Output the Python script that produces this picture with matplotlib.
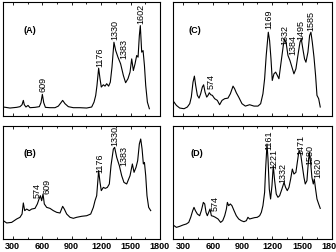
import matplotlib
matplotlib.use("Agg")
import matplotlib.pyplot as plt
from matplotlib.ticker import MultipleLocator

plt.rcParams["font.family"] = ["Liberation Sans", "DejaVu Sans"]

# ---- spectra (wavenumber, relative intensity on 0..100 panel scale) ----
xa = [203, 271, 339, 373, 394, 407, 417, 434, 455, 475, 526, 570, 587, 601, 615,
      632, 679, 730, 764, 791, 808, 832, 866, 917, 985, 1053, 1104, 1128, 1145,
      1158, 1175, 1189, 1202, 1223, 1240, 1257, 1277, 1294, 1311, 1331, 1349,
      1372, 1399, 1427, 1450, 1474, 1495, 1512, 1529, 1546, 1563, 1577, 1590,
      1600, 1614, 1628, 1642, 1655, 1672, 1692]
ya = [7.9, 7.0, 7.6, 8.2, 9.9, 13.7, 9.9, 7.9, 9.3, 7.3, 7.6, 8.2, 11.7, 19, 11.7,
      7.6, 7.3, 7.3, 8.7, 11.7, 13.7, 10.8, 8.2, 7.3, 7.3, 7.0, 7.9, 12.2, 18,
      26.8, 42, 32.7, 25.4, 27.4, 26.2, 28.3, 26.2, 29.7, 42.9, 64.7, 57.4,
      51.6, 45.8, 35.6, 29.2, 32.7, 38.5, 50.1, 39.9, 45.8, 53.1, 51.6, 70.6,
      79.3, 56, 57.4, 44.3, 26.8, 12.2, 6.4]

xb = [203, 237, 288, 339, 373, 394, 407, 421, 441, 468, 492, 526, 550, 567, 581,
      594, 608, 621, 645, 679, 713, 747, 781, 808, 825, 849, 883, 917, 951, 1002,
      1053, 1094, 1121, 1138, 1155, 1175, 1189, 1202, 1223, 1243, 1264, 1284,
      1301, 1325, 1338, 1359, 1386, 1410, 1433, 1461, 1495, 1519, 1536, 1556,
      1573, 1590, 1604, 1618, 1631, 1642, 1655, 1668, 1685, 1706]
yb = [16.2, 14.2, 14.7, 17.7, 19.2, 22.1, 31.9, 25.1, 26.5, 25.1, 26.5, 27.1, 31,
      35.4, 38.3, 33.9, 39.8, 31, 28, 27.1, 25.1, 23.6, 23, 28.9, 26.5, 22.1,
      19.2, 18.3, 19.2, 20.1, 20.6, 22.1, 28, 33.9, 38.3, 60.5, 50.1, 42.8,
      45.7, 44.8, 45.7, 48.7, 64.9, 79.6, 81.1, 72.3, 64.9, 56, 50.1, 48.7, 56,
      66.4, 59, 63.4, 69.3, 84.1, 88.5, 79.6, 66.4, 67.8, 56, 38.3, 28, 25.1]

xc = [210, 234, 267, 311, 344, 368, 384, 401, 415, 428, 445, 462, 478, 495, 508,
      522, 539, 552, 565, 579, 596, 619, 646, 669, 693, 720, 753, 777, 804, 820,
      837, 861, 894, 928, 971, 1015, 1055, 1082, 1105, 1122, 1138, 1159, 1172,
      1186, 1199, 1216, 1233, 1250, 1266, 1290, 1310, 1323, 1340, 1357, 1377,
      1397, 1417, 1437, 1457, 1478, 1491, 1508, 1524, 1538, 1558, 1575, 1588,
      1602, 1619, 1635, 1649, 1666, 1682]
yc = [12.2, 9.3, 7, 6.4, 7.9, 10.8, 16.6, 29.7, 35, 26.8, 18.1, 15.7, 19.5, 25.4,
      27.4, 21, 16.6, 18.1, 20.4, 18.7, 18.1, 15.2, 13.7, 9.9, 13.7, 15.2, 15.7,
      19.5, 26.2, 23.9, 20.4, 16.6, 10.8, 8.7, 9.9, 8.7, 8.7, 10.8, 19.5, 32.7,
      53.1, 73.5, 66.2, 50.1, 31.2, 37, 38.5, 35.6, 32.7, 48.7, 61.8, 67.6,
      63.3, 53.1, 48.7, 42.9, 37, 41.4, 53.1, 64.7, 67.6, 58.3, 50.1, 47.2, 56,
      70.6, 73.5, 64.7, 51.6, 35.6, 18.1, 15.2, 7.9]

xd = [210, 234, 267, 301, 334, 358, 378, 398, 411, 425, 445, 468, 485, 505, 519,
      532, 545, 559, 572, 586, 606, 626, 653, 679, 700, 720, 737, 747, 760, 777,
      793, 814, 837, 861, 887, 914, 938, 954, 971, 995, 1021, 1048, 1072, 1089,
      1105, 1122, 1132, 1146, 1156, 1169, 1182, 1196, 1209, 1223, 1239, 1256,
      1273, 1296, 1317, 1333, 1350, 1367, 1384, 1401, 1417, 1437, 1451, 1468,
      1485, 1501, 1518, 1531, 1548, 1558, 1572, 1585, 1598, 1612, 1622, 1635,
      1649, 1666, 1682]
yd = [11.8, 10.3, 11.2, 12.4, 13.3, 14.7, 19.2, 25.1, 28, 25.1, 22.1, 20.6, 25.1,
      32.4, 31, 23.6, 20.6, 23.6, 26.5, 20.6, 20.1, 19.2, 17.7, 14.7, 16.2, 20.6,
      26.5, 32.4, 29.5, 31, 29.5, 25.1, 20.6, 17.7, 16.2, 15.3, 16.2, 19.2, 17.7,
      18.3, 18.9, 19.2, 20.6, 23.6, 29.5, 41.3, 61.9, 84.1, 70.8, 44.2, 35.4,
      47.2, 64.9, 51.6, 39.8, 36.9, 38.3, 44.2, 50.1, 45.7, 42.8, 45.7, 53.1,
      61.9, 57.5, 59, 67.8, 78.2, 75.2, 64.9, 54.6, 48.7, 51.6, 63.4, 76.7, 67.8,
      54.6, 48.7, 53.1, 44.2, 35.4, 31, 27.1]

# ---- peak labels: (text, x, y) ----
peaks_a = [("609", 611, 29), ("1176", 1189, 52.5), ("1330", 1342, 76),
           ("1383", 1427, 60), ("1602", 1607, 90)]
peaks_b = [("574", 543, 43.7), ("609", 652, 47), ("1176", 1182, 68),
           ("1330", 1335, 92), ("1383", 1427, 74)]
peaks_c = [("574", 586, 31), ("1169", 1162, 86), ("1332", 1323, 72),
           ("1384", 1407, 63), ("1495", 1491, 76), ("1585", 1585, 84.5)]
peaks_d = [("574", 619, 32.4), ("1161", 1160, 88), ("1221", 1216, 72),
           ("1332", 1306, 59), ("1471", 1484, 84), ("1580", 1575, 75),
           ("1620", 1659, 64)]

panels = [
    ("(A)", xa, ya, peaks_a, [0.009, 0.5375, 0.467, 0.4506], 472, 76),
    ("(B)", xb, yb, peaks_b, [0.009, 0.0514, 0.467, 0.4466], 475, 76.7),
    ("(C)", xc, yc, peaks_c, [0.515, 0.5375, 0.473, 0.4506], 418, 76),
    ("(D)", xd, yd, peaks_d, [0.515, 0.0514, 0.473, 0.4466], 435, 76.7),
]

fig = plt.figure(figsize=(3.36, 2.53), dpi=100)
for name, x, y, peaks, rect, lx, ly in panels:
    ax = fig.add_axes(rect)
    ax.plot(x, y, color="black", lw=0.8)
    ax.set_xlim(200, 1800)
    ax.set_ylim(0, 100)
    ax.xaxis.set_major_locator(MultipleLocator(300))
    ax.xaxis.set_minor_locator(MultipleLocator(150))
    ax.set_yticks([])
    ax.tick_params(axis="x", which="both", direction="in", top=True, bottom=True,
                   labelsize=6.5, pad=1.5)
    ax.tick_params(axis="x", which="major", length=2.5, width=0.6)
    ax.tick_params(axis="x", which="minor", length=1.5, width=0.6)
    for lab in ax.get_xticklabels():
        lab.set_fontweight("bold")
    if rect[1] > 0.3:
        ax.tick_params(axis="x", labelbottom=False)
    for s in ax.spines.values():
        s.set_linewidth(0.8)
    ax.text(lx, ly, name, fontsize=6.5, fontweight="bold", ha="center", va="center")
    for txt, px, py in peaks:
        ax.text(px, py, txt, fontsize=6.5, rotation=90, ha="center", va="center")

fig.savefig("out.png", dpi=100)
